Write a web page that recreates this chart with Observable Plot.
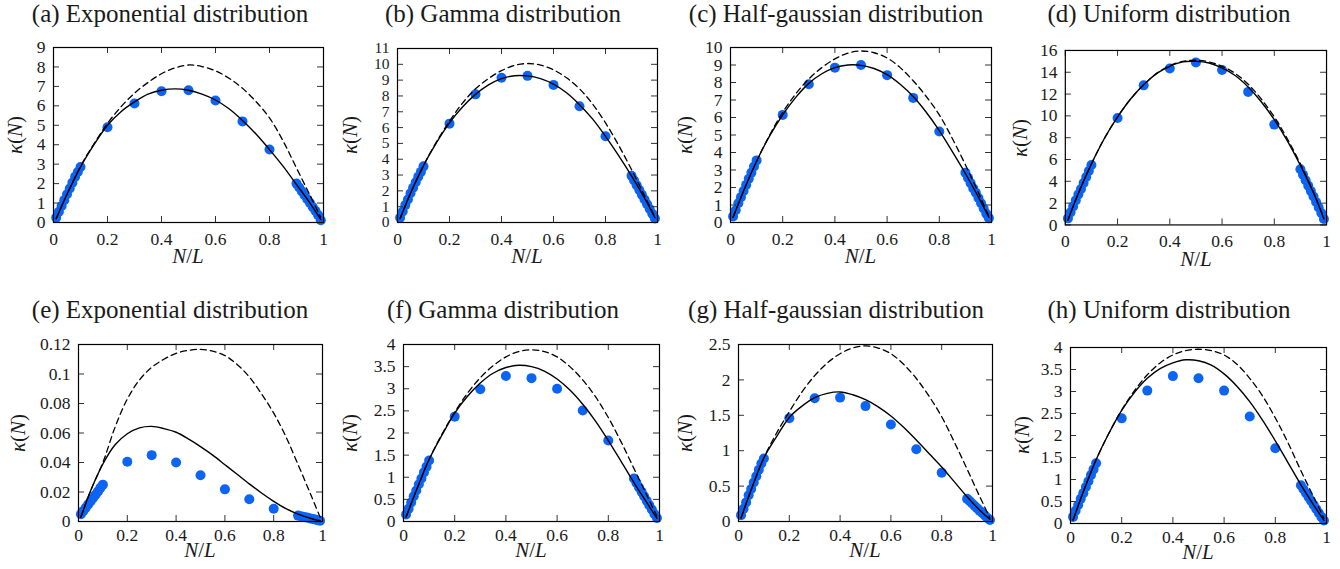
<!DOCTYPE html>
<html><head><meta charset="utf-8">
<script src="https://cdn.jsdelivr.net/npm/d3@7"></script>
<script src="https://cdn.jsdelivr.net/npm/@observablehq/plot@0.6"></script>
<style>
body{margin:0;background:#fff;}
#root{position:relative;width:1340px;height:569px;overflow:hidden;background:#fff;}
.title{position:absolute;font-family:"Liberation Serif",serif;font-size:25px;color:#1a1a1a;white-space:nowrap;transform:translateX(-50%);line-height:1;}
.ylab,.xlab{position:absolute;font-family:"Liberation Serif",serif;font-size:21px;color:#1a1a1a;white-space:nowrap;line-height:1;}
.ylab{transform:translate(-50%,-50%) rotate(-90deg);}
.xlab{transform:translate(-50%,-50%);}
.panel{position:absolute;}
.panel svg{overflow:visible;}
.panel svg text{font-family:"Liberation Serif",serif !important;font-size:17.5px !important;fill:#1a1a1a;}
.panel.tight svg g[aria-label*="y-axis"] text{font-size:15.5px !important;}
</style></head><body><div id="root"></div>
<script>
// ---- data ----
const titles = ["(a) Exponential distribution","(b) Gamma distribution","(c) Half-gaussian distribution","(d) Uniform distribution",
                "(e) Exponential distribution","(f) Gamma distribution","(g) Half-gaussian distribution","(h) Uniform distribution"];
const xTicks = [0, 0.2, 0.4, 0.6, 0.8, 1];
const aTicks = [0,1,2,3,4,5,6,7,8,9];
const bTicks = [0,1,2,3,4,5,6,7,8,9,10,11];
const cTicks = [0,1,2,3,4,5,6,7,8,9,10];
const dTicks = [0,2,4,6,8,10,12,14,16];
const eTicks = [0,0.02,0.04,0.06,0.08,0.1,0.12];
const fTicks = [0,0.5,1,1.5,2,2.5,3,3.5,4];
const gTicks = [0,0.5,1,1.5,2,2.5];
const hTicks = [0,0.5,1,1.5,2,2.5,3,3.5,4];

const xDots = [0.01,0.02,0.03,0.04,0.05,0.06,0.07,0.08,0.09,0.1,
               0.2,0.3,0.4,0.5,0.6,0.7,0.8,
               0.9,0.91,0.92,0.93,0.94,0.95,0.96,0.97,0.98,0.99];
const aDots = [0.25,0.55,0.85,1.15,1.45,1.75,2.05,2.35,2.6,2.85, 4.9,6.12,6.75,6.8,6.27,5.2,3.75, 2.0,1.8,1.6,1.4,1.2,1.0,0.8,0.6,0.38,0.12];
const bDots = [0.3,0.7,1.1,1.45,1.85,2.2,2.55,2.9,3.2,3.55, 6.25,8.1,9.15,9.27,8.7,7.35,5.45, 2.95,2.65,2.35,2.05,1.75,1.45,1.15,0.85,0.55,0.25];
const cDots = [0.35,0.7,1.1,1.45,1.8,2.15,2.5,2.85,3.2,3.55, 6.15,7.9,8.85,9.0,8.42,7.12,5.2, 2.85,2.55,2.25,1.95,1.7,1.4,1.1,0.8,0.5,0.25];
const dDots = [0.6,1.15,1.7,2.25,2.8,3.3,3.85,4.4,4.95,5.5, 9.8,12.8,14.35,14.9,14.2,12.2,9.2, 5.1,4.6,4.1,3.6,3.1,2.6,2.1,1.6,1.1,0.55];
const eDots = [0.005,0.0072,0.0094,0.0116,0.0138,0.016,0.0182,0.0204,0.0228,0.025, 0.0405,0.045,0.040,0.0313,0.0218,0.0151,0.0087, 0.004,0.0036,0.0032,0.0028,0.0025,0.0021,0.0017,0.0013,0.0009,0.0005];
const fDots = [0.16,0.29,0.43,0.57,0.70,0.84,0.97,1.11,1.24,1.38, 2.37,2.99,3.29,3.24,3.0,2.51,1.83, 0.97,0.87,0.77,0.67,0.57,0.47,0.37,0.27,0.17,0.08];
const gDots = [0.09,0.18,0.27,0.37,0.46,0.55,0.64,0.73,0.82,0.89, 1.46,1.74,1.75,1.63,1.37,1.02,0.69, 0.32,0.29,0.255,0.22,0.185,0.15,0.12,0.085,0.05,0.02];
const hDots = [0.15,0.29,0.42,0.56,0.69,0.83,0.96,1.10,1.23,1.37, 2.39,3.02,3.35,3.3,3.02,2.43,1.71, 0.87,0.78,0.69,0.6,0.51,0.42,0.33,0.24,0.15,0.07];

const xCurve = [0.01,0.05,0.1,0.15,0.2,0.25,0.3,0.35,0.4,0.45,0.5,0.55,0.6,0.65,0.7,0.75,0.8,0.85,0.9,0.95,0.99];
const aSolid  = [0.2,1.45,2.85,4.0,5.0,5.7,6.2,6.6,6.8,6.87,6.8,6.6,6.3,5.85,5.25,4.55,3.75,2.9,1.95,1.0,0.15];
const aDashed = [0.2,1.45,2.9,4.05,5.1,5.95,6.65,7.2,7.65,7.95,8.1,8.02,7.8,7.42,6.9,6.22,5.38,4.2,2.8,1.4,0.25];
const bSolid  = [0.25,1.85,3.6,5.05,6.3,7.3,8.1,8.7,9.1,9.28,9.27,9.1,8.75,8.2,7.45,6.55,5.45,4.25,2.95,1.55,0.3];
const bDashed = [0.25,1.85,3.6,5.1,6.4,7.55,8.45,9.1,9.6,9.93,10.05,9.95,9.65,9.15,8.45,7.5,6.3,4.9,3.35,1.7,0.35];
const cSolid  = [0.3,1.8,3.5,4.95,6.15,7.15,7.95,8.5,8.85,9.0,8.98,8.8,8.45,7.9,7.2,6.3,5.25,4.05,2.8,1.45,0.3];
const cDashed = [0.3,1.8,3.5,5.0,6.3,7.35,8.2,8.85,9.35,9.68,9.8,9.7,9.4,8.85,8.1,7.2,6.15,4.8,3.3,1.7,0.35];
const dSolid  = [0.45,2.9,5.6,7.95,9.9,11.55,12.85,13.9,14.55,14.95,15.0,14.85,14.4,13.7,12.65,11.3,9.65,7.7,5.45,2.95,0.55];
const dDashed = [0.45,2.9,5.6,7.95,9.9,11.55,12.85,13.9,14.6,15.0,15.1,14.95,14.55,13.9,12.9,11.55,9.9,7.9,5.6,3.0,0.6];
const eSolid  = [0.003,0.021,0.039,0.052,0.0595,0.0635,0.0645,0.063,0.0605,0.056,0.0508,0.045,0.0385,0.032,0.0255,0.0193,0.0137,0.0088,0.005,0.0022,0.0005];
const eDashed = [0.003,0.021,0.040,0.064,0.083,0.096,0.1045,0.110,0.114,0.116,0.1167,0.1155,0.1125,0.1065,0.098,0.0865,0.0735,0.0575,0.0385,0.019,0.003];
const fSolid  = [0.1,0.7,1.4,1.95,2.45,2.83,3.13,3.35,3.48,3.53,3.5,3.4,3.22,2.97,2.65,2.27,1.83,1.36,0.88,0.43,0.07];
const fDashed = [0.1,0.7,1.4,1.97,2.47,2.9,3.25,3.52,3.72,3.84,3.88,3.84,3.72,3.5,3.2,2.82,2.35,1.8,1.2,0.6,0.12];
const gSolid  = [0.05,0.45,0.9,1.2,1.47,1.63,1.75,1.81,1.83,1.79,1.72,1.62,1.49,1.33,1.15,0.96,0.77,0.56,0.35,0.16,0.03];
const gDashed = [0.05,0.45,0.9,1.25,1.55,1.83,2.06,2.24,2.37,2.45,2.48,2.45,2.37,2.22,2.02,1.77,1.48,1.12,0.74,0.35,0.05];
const hSolid  = [0.08,0.72,1.45,2.05,2.57,2.98,3.3,3.52,3.65,3.72,3.7,3.6,3.4,3.12,2.77,2.35,1.88,1.38,0.88,0.42,0.07];
const hDashed = [0.08,0.72,1.45,2.05,2.58,3.02,3.38,3.65,3.83,3.93,3.96,3.93,3.83,3.62,3.3,2.9,2.4,1.83,1.2,0.6,0.12];

// ---- layout ----
const dotColor = "#0b64f4";
const tickColor = "#333";
const fmt = d3.format("~g");
const panels = [
  {dots:aDots, solid:aSolid, dashed:aDashed, ticks:aTicks, box:[53,47,323,222]},
  {dots:bDots, solid:bSolid, dashed:bDashed, ticks:bTicks, box:[397,48,657,222], tight:true},
  {dots:cDots, solid:cSolid, dashed:cDashed, ticks:cTicks, box:[730,47,991,222]},
  {dots:dDots, solid:dSolid, dashed:dDashed, ticks:dTicks, box:[1065,50,1327,225]},
  {dots:eDots, solid:eSolid, dashed:eDashed, ticks:eTicks, box:[78,344,322,521]},
  {dots:fDots, solid:fSolid, dashed:fDashed, ticks:fTicks, box:[403,344,659,521]},
  {dots:gDots, solid:gSolid, dashed:gDashed, ticks:gTicks, box:[738,344,992,521]},
  {dots:hDots, solid:hSolid, dashed:hDashed, ticks:hTicks, box:[1070,347,1326,523]}
];
const titleCX = [170, 503, 836, 1169];
const titleTop = [1, 297];
const ylabX = [[15,350,685,1020],[18,350,685,1022]];
const TL = 6; // inward tick length

const root = document.getElementById("root");
panels.forEach((p, i) => {
  const row = i < 4 ? 0 : 1, col = i % 4;
  const [L,T,R,B] = p.box;
  const fw = R - L, fh = B - T;
  const mL = 60, mR = 14, mT = 14, mB = 34;
  const dots = xDots.map((x, k) => ({x, y: p.dots[k]}));
  const curve = xCurve.map((x, k) => ({x, s: p.solid[k], d: p.dashed[k]}));
  const yMax = p.ticks[p.ticks.length - 1];
  const svg = Plot.plot({
    width: fw + mL + mR, height: fh + mT + mB,
    marginLeft: mL, marginRight: mR, marginTop: mT, marginBottom: mB,
    x: {domain: [0, 1], ticks: xTicks, tickSize: 0, tickPadding: row ? 7 : 10, tickFormat: fmt, label: null},
    y: {domain: [0, yMax], ticks: p.ticks, tickSize: 0, tickPadding: 8, tickFormat: fmt, label: null},
    style: {fontFamily: '"Liberation Serif", serif', fontSize: "17.5px", color: "#1a1a1a", background: "transparent", overflow: "visible"},
    marks: [
      Plot.dot(dots, {x: "x", y: "y", r: 5, fill: dotColor, stroke: "none"}),
      Plot.line(curve, {x: "x", y: "d", stroke: "#000", strokeWidth: 1.3, strokeDasharray: "6,4", curve: "catmull-rom"}),
      Plot.line(curve, {x: "x", y: "s", stroke: "#000", strokeWidth: 1.4, curve: "catmull-rom"}),
      Plot.ruleX(xTicks, {x: d => d, insetTop: fh - TL, stroke: tickColor}),
      Plot.ruleX(xTicks, {x: d => d, insetBottom: fh - TL, stroke: tickColor}),
      Plot.ruleY(p.ticks, {y: d => d, insetRight: fw - TL, stroke: tickColor}),
      Plot.ruleY(p.ticks, {y: d => d, insetLeft: fw - TL, stroke: tickColor}),
      Plot.frame({stroke: "#000", strokeWidth: 1.2})
    ]
  });
  const wrap = document.createElement("div");
  wrap.className = "panel" + (p.tight ? " tight" : "");
  wrap.style.left = (L - mL) + "px";
  wrap.style.top = (T - mT) + "px";
  wrap.appendChild(svg);
  root.appendChild(wrap);

  const t = document.createElement("div");
  t.className = "title";
  t.textContent = titles[i];
  t.style.left = titleCX[col] + "px";
  t.style.top = titleTop[row] + "px";
  root.appendChild(t);

  const yl = document.createElement("div");
  yl.className = "ylab";
  yl.innerHTML = "<i>κ</i>(<i>N</i>)";
  yl.style.left = ylabX[row][col] + "px";
  yl.style.top = ((T + B) / 2) + "px";
  root.appendChild(yl);

  const xl = document.createElement("div");
  xl.className = "xlab";
  xl.innerHTML = "<i>N</i>/<i>L</i>";
  xl.style.left = ((L + R) / 2) + "px";
  xl.style.top = (B + (row ? 29 : 34)) + "px";
  root.appendChild(xl);
});
</script></body></html>
